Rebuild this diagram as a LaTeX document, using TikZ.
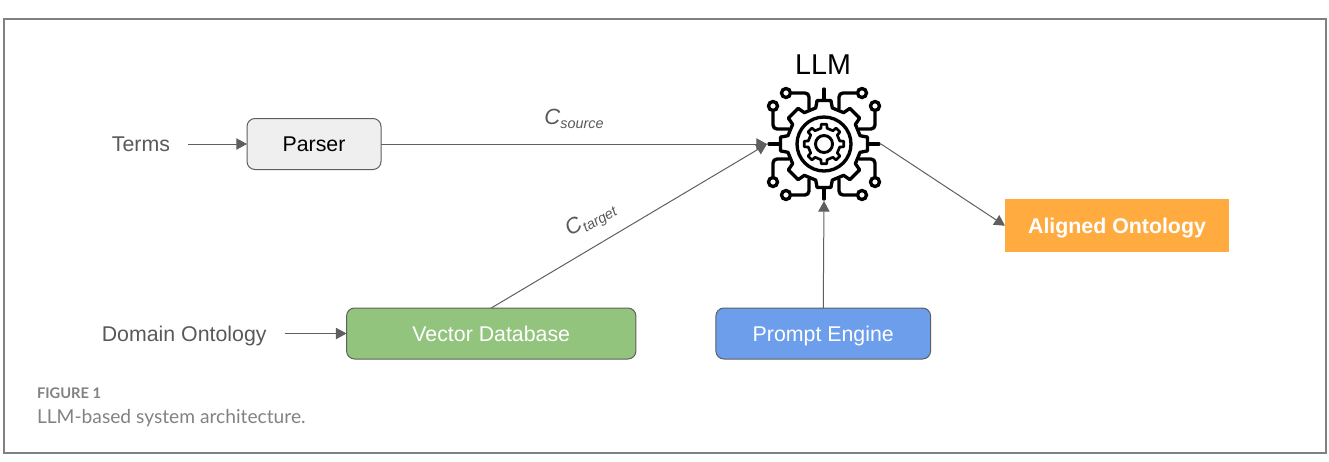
\documentclass[tikz,border=0pt]{standalone}
\usepackage{fontspec}
\setmainfont{Liberation Sans}
\newfontfamily\captionfont{Lato}
\usetikzlibrary{positioning,arrows.meta}
\definecolor{colortext}   {RGB}{89 ,89 ,89 }
\definecolor{colorline}   {RGB}{95 ,95 ,95 }
\definecolor{colorframe}  {RGB}{128,128,128}
\definecolor{colorparser} {RGB}{239,239,239}
\definecolor{colorvector} {RGB}{147,196,125}
\definecolor{colorprompt} {RGB}{109,158,235}
\definecolor{coloraligned}{RGB}{255,171,64 }
\definecolor{colorcaption}{RGB}{130,130,130}

\begin{document}
\begin{tikzpicture}[
    x=0.75pt, y=-0.75pt,
    txt/.style={text=colortext,font={\fontsize{16}{18}\selectfont},inner xsep=13.5pt,inner ysep=0pt,outer sep=0pt,text height=11.5pt,text depth=0pt},
    base/.style={rectangle,rounded corners=6pt,line width=0.75pt,outer sep=0pt,inner sep=0pt,minimum height=38.25pt,font={\fontsize{16}{18}\selectfont},text height=11.5pt,text depth=0pt},
    link/.style={-{Triangle[length=8pt,width=8.5pt]},draw=colorline,line width=0.75pt},
    chip/.style={line width=2.5pt,line cap=round,line join=round,rounded corners=3pt},
    caption/.style={text=colorcaption,anchor=base west,inner sep=0pt,outer sep=0pt},
]

    % Frame
    \useasboundingbox (0,0) rectangle (1329,461);
    \draw[colorframe,line width=1.1pt] (4,19) rectangle (1326,453);

    % Nodes
    \node[base,draw=colorline,fill=colorparser,text=black,minimum width=100.5pt] (parser) at (314,144) {Parser};
    \node[base,draw=colorline,fill=colorvector,text=white,minimum width=217pt]   (vecdb)  at (491.25,333.5) {Vector Database};
    \node[base,draw=colorline,fill=colorprompt,text=white,minimum width=161pt,right=60pt of vecdb] (prompt) {Prompt Engine};
    \node[base,rounded corners=0pt,fill=coloraligned,text=white,minimum width=168pt,minimum height=39.4pt,font={\fontsize{16}{18}\selectfont\bfseries}] (aligned) at (1117,225.75) {Aligned Ontology};
    \node[circle,minimum size=85.5pt,inner sep=0pt,outer sep=0pt] (llm) at (824,144) {};

    % Text
    \node[txt,left=44.25pt of parser] (terms) {Terms};
    \node[txt,left=46.5pt of vecdb]   (domain) {Domain Ontology};
    \node[inner sep=0pt,font={\fontsize{21.5}{24}\selectfont}] (llmtxt) at (823,65) {LLM};
    \node[text=colortext,inner sep=0pt] (source) at (574,119) {\fontsize{16.5}{18}\selectfont\itshape C\raisebox{-3.5pt}{\fontsize{10.8}{12}\selectfont source}};
    \node[text=colortext,inner sep=0pt,rotate=30] (target) at (591,220) {\fontsize{16.5}{18}\selectfont\itshape C\raisebox{-3.5pt}{\fontsize{10.8}{12}\selectfont target}};

    % Caption
    \node[caption,font={\fontsize{11}{14}\selectfont\captionfont\bfseries}] (figlabel) at (37,398) {FIGURE 1};
    \node[caption,font={\fontsize{14.4}{16}\selectfont\captionfont}] (figtext) at (37,423) {LLM-based system architecture.};

    % Icon
    \begin{scope}[shift={(824,144)}]
        \foreach \sx in {1,-1} \foreach \sy in {1,-1} {
            \begin{scope}[xscale=\sx,yscale=\sy]
                \draw[chip] (-32,-51) -- (-15,-51) -- (-15,-35);
                \draw[chip] (-51,-32) -- (-51,-15) -- (-35,-15);
                \draw[line width=2.5pt] (-38,-51) circle (4.5);
                \draw[line width=2.5pt] (-51,-38) circle (4.5);
            \end{scope}
        }
        \foreach \a in {0,90,180,270}
            \draw[line width=2.5pt,line cap=round] (\a:44) -- (\a:55);
        \draw[line width=2.5pt,line join=round]
            (-13:37) \foreach \a in {0,45,...,315} { -- (\a-13:37) -- (\a-9:44) -- (\a+9:44) -- (\a+13:37) } -- cycle;
        \draw[line width=2.5pt] (0,0) circle (27);
        \draw[line width=2pt,line join=round]
            (-11:16) \foreach \a in {0,45,...,315} { -- (\a-11:16) -- (\a-8:20) -- (\a+8:20) -- (\a+11:16) } -- cycle;
        \draw[line width=2.2pt] (0,0) circle (8.5);
    \end{scope}

    % Arrows
    \draw[link] (terms) -- (parser);
    \draw[link] (domain) -- (vecdb);
    \draw[link] (parser) -- (llm.west);
    \draw[link] (vecdb.north) -- (llm.west);
    \draw[link] (prompt.north) -- (llm.south);
    \draw[link] (llm.east) -- (aligned.west);

\end{tikzpicture}
\end{document}
